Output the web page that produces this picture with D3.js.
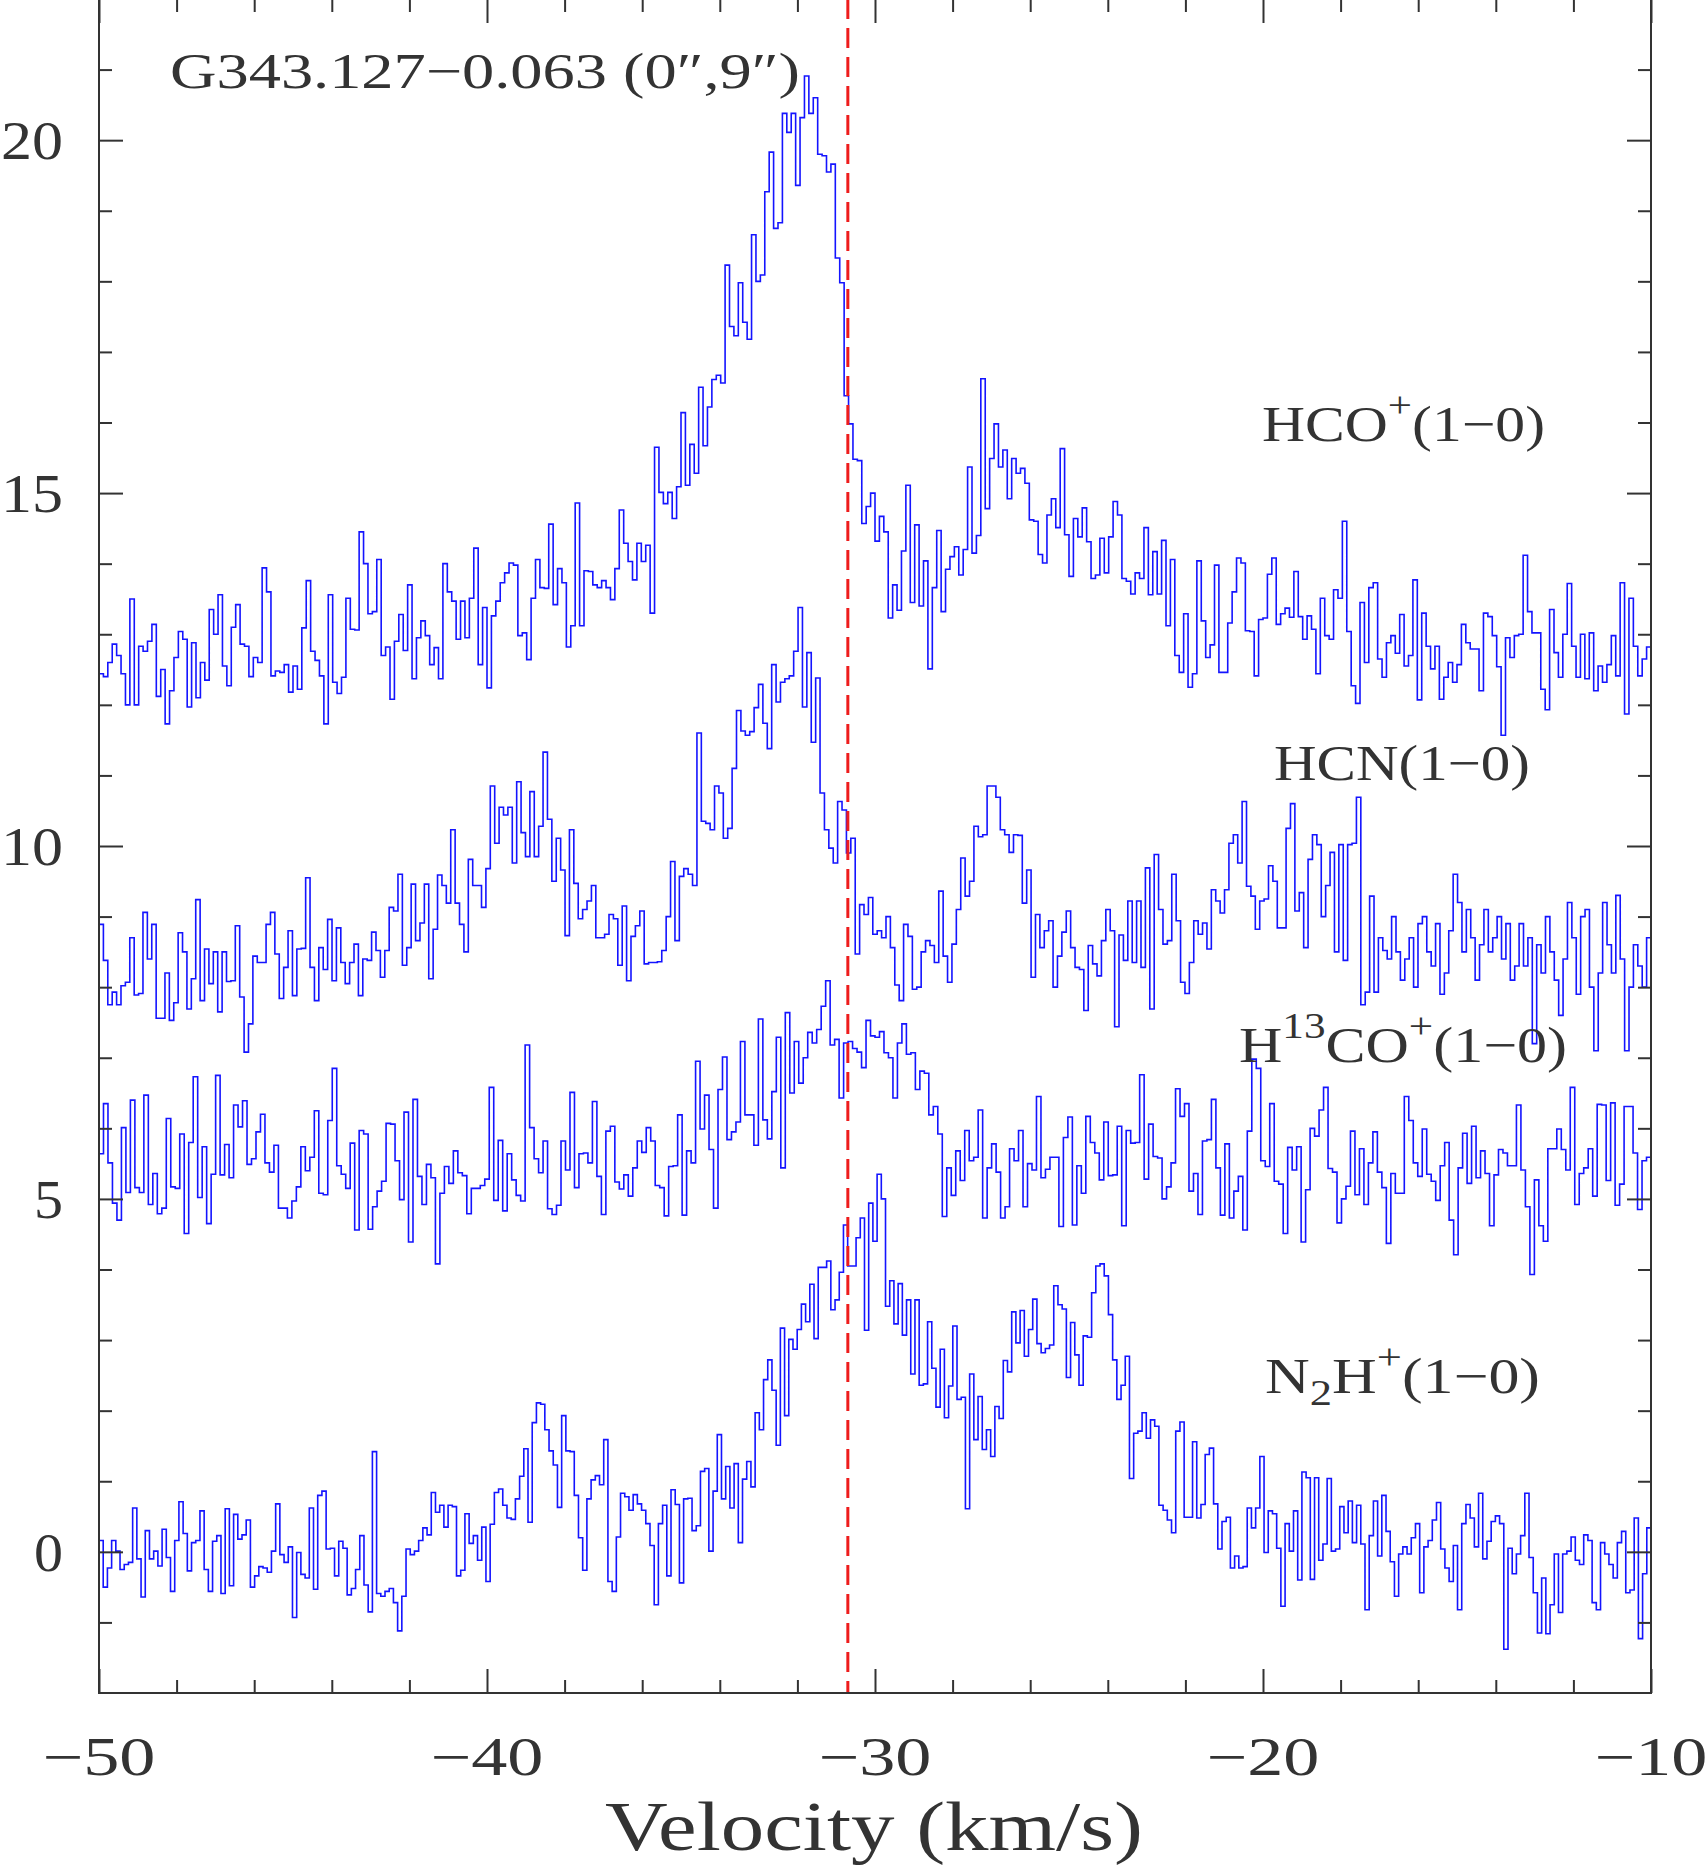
<!DOCTYPE html>
<html><head><meta charset="utf-8">
<script src="https://cdn.jsdelivr.net/npm/d3@7"></script>
<style>html,body{margin:0;padding:0;background:#fff;} svg{display:block;}</style>
</head><body>
<svg id="chart" width="1708" height="1867"></svg>
<script>
// ---------- data ----------
const velocityRange = [-50, -10];
const intensityRange = [-2, 22];
const xMajorTicks = [-50, -40, -30, -20, -10];
const xTickLabels = ["\u221250", "\u221240", "\u221230", "\u221220", "\u221210"];
const xMinorTicks = [-48, -46, -44, -42, -38, -36, -34, -32, -28, -26, -24, -22, -18, -16, -14, -12];
const yMajorTicks = [0, 5, 10, 15, 20];
const yTickLabels = ["0", "5", "10", "15", "20"];
const yMinorTicks = [-1, 1, 2, 3, 4, 6, 7, 8, 9, 11, 12, 13, 14, 16, 17, 18, 19, 21];
const systemicVelocity = -30.7;
const sourceTitle = "G343.127\u22120.063 (0\u2033,9\u2033)";

const hcoValues = [
12.44,12.4,12.6,12.86,12.7,12.44,12.0,13.5,12.0,12.83,12.76,12.9,13.14,12.12,12.5,11.73,12.2,12.67,13.04,12.93,11.97,12.88,12.1,12.6,12.35,13.35,13.0,13.56,12.55,12.27,13.1,13.42,12.86,12.83,12.4,12.67,12.6,13.94,13.6,12.41,12.48,12.46,12.57,12.18,12.55,12.22,13.09,13.76,12.76,12.63,12.41,11.73,13.56,12.32,12.16,12.39,13.51,13.07,13.06,14.45,
14.0,13.29,13.32,14.06,12.7,12.82,12.08,12.9,13.28,12.77,13.7,12.37,12.95,13.19,12.98,12.57,12.81,12.37,14.0,13.6,13.47,12.93,13.47,12.95,13.51,14.22,12.57,13.38,12.24,13.26,13.47,13.73,13.87,14.01,13.98,12.98,13.02,12.64,13.51,14.06,13.66,13.65,14.56,13.42,13.93,13.73,12.82,13.12,14.86,13.12,13.9,13.89,13.7,13.66,13.76,13.66,13.49,13.93,
14.76,14.29,14.03,13.77,14.29,14.03,14.26,13.3,15.65,15.01,14.85,15.01,14.64,15.09,16.14,15.11,15.69,15.28,16.5,15.67,16.22,16.61,16.67,16.56,18.23,17.36,17.23,17.98,17.42,17.18,18.66,18.0,18.09,19.27,19.83,18.75,18.83,20.38,20.11,20.38,19.36,20.32,20.91,20.38,20.6,19.8,19.78,19.55,19.66,18.33,17.98,16.38,15.98,15.48,15.46,14.57,14.81,15.0,14.32,
14.67,14.45,13.23,13.7,13.34,14.18,15.11,13.45,14.55,13.4,14.04,12.51,13.66,14.47,13.32,13.92,14.1,14.24,13.84,14.2,15.37,14.15,14.4,16.62,14.78,15.49,15.98,15.37,15.61,14.92,15.49,15.28,15.35,15.14,14.62,14.6,14.13,14.01,14.69,14.92,14.51,15.63,14.41,13.82,14.64,14.38,14.79,14.31,13.79,13.84,14.36,13.87,14.38,14.88,14.69,13.79,13.75,13.57,13.87,
13.79,14.51,13.56,14.17,13.57,14.33,13.12,14.06,12.7,12.46,13.29,12.25,12.44,14.04,13.19,12.67,12.85,13.98,12.46,12.46,13.16,13.6,14.08,14.01,13.05,13.04,12.41,13.21,13.23,13.85,14.08,13.14,13.29,13.37,13.24,13.89,13.25,12.93,13.26,13.07,12.44,13.51,12.98,12.93,13.63,13.51,14.6,13.04,12.27,12.02,13.45,12.6,13.66,13.73,12.65,12.39,12.88,12.98,
12.73,13.28,12.55,12.7,13.77,12.07,13.3,12.83,12.51,12.83,12.08,12.39,12.6,12.32,12.57,13.14,12.88,12.79,12.79,12.2,13.3,13.25,12.98,12.54,11.57,12.95,12.67,12.98,13.0,14.12,13.32,13.02,13.02,12.22,11.93,13.35,12.74,12.39,13.0,13.72,12.83,12.39,13.0,12.37,13.02,12.2,12.55,12.32,12.57,12.98,12.41,13.73,11.87,13.51,12.83,12.41,12.65,12.82
];

const hcnValues = [
8.89,8.38,7.75,7.93,7.75,8.02,8.07,8.70,7.89,7.91,9.06,8.4,8.89,7.56,7.56,8.2,7.53,7.78,8.77,8.5,7.69,8.12,9.24,7.81,8.54,8.05,8.5,7.65,8.5,8.08,8.09,8.87,7.86,7.08,7.48,8.44,8.35,8.35,8.89,9.06,8.47,7.84,8.28,8.8,7.88,8.54,8.55,9.55,8.28,7.81,8.56,8.25,8.96,8.09,8.84,8.35,8.05,8.35,
8.61,7.88,8.4,8.38,8.78,8.52,8.14,8.52,9.13,9.08,9.6,8.31,8.56,9.46,8.66,8.91,9.46,8.12,8.82,9.59,9.44,9.19,10.23,9.19,8.89,8.5,9.81,9.44,9.44,9.13,9.68,10.85,10.04,10.55,10.44,10.55,9.76,10.91,10.19,9.85,10.77,9.85,10.28,11.33,10.38,9.5,10.11,9.66,8.73,10.23,9.47,8.97,9.1,9.22,9.44,8.7,8.7,8.75,9.03,
8.97,8.31,9.15,8.09,8.72,8.87,9.08,8.33,8.35,8.35,8.36,8.52,9.0,9.78,8.66,9.57,9.68,9.6,9.44,11.6,10.35,10.32,10.23,10.85,10.75,10.11,10.25,11.1,11.92,11.63,11.57,11.62,11.96,12.29,11.74,11.38,12.57,12.04,12.32,12.37,12.41,12.76,13.38,11.97,12.74,11.47,12.38,10.75,10.23,9.97,9.76,10.63,10.51,9.9,10.11,8.47,9.17,9.03,
9.27,8.75,8.8,8.7,9.0,8.56,8.03,7.81,8.89,8.72,7.97,8.0,8.5,8.66,8.59,8.35,9.36,8.44,8.07,8.61,9.1,9.83,9.29,9.5,10.28,10.13,10.16,10.85,10.85,10.69,10.23,10.16,9.91,10.16,10.15,9.19,9.66,8.14,9.03,8.56,8.8,8.94,8.0,8.44,8.78,9.08,8.56,8.28,8.25,7.67,8.59,8.33,8.16,8.66,9.1,8.8,7.44,8.74,8.38,
9.22,8.35,9.22,8.28,9.69,7.69,9.88,9.1,8.61,8.66,9.6,8.94,8.07,7.91,8.35,8.94,8.75,8.91,8.54,9.38,9.22,9.05,9.38,10.04,10.16,9.76,10.63,9.43,9.29,8.82,9.22,9.25,9.72,9.5,8.84,8.84,10.25,10.6,9.08,9.34,8.56,9.81,10.16,10.02,9.0,9.44,9.91,8.5,10.02,8.38,10.02,10.04,10.69,7.75,7.93,9.29,7.93,8.7,8.52,
8.4,9.0,8.5,8.1,8.4,8.7,8.0,8.9,9.0,8.5,8.3,8.9,7.9,8.2,8.8,9.6,9.2,8.5,9.1,8.7,8.1,8.6,9.1,8.5,8.7,9.0,8.4,8.9,8.1,8.3,8.9,8.3,8.7,7.2,8.6,8.2,9.0,8.5,8.1,7.6,8.4,9.2,8.7,7.9,9.0,9.1,8.0,7.1,8.2,9.2,8.6,8.2,9.3,8.4,7.1,8.0,8.6,8.3,8.0,8.7
];

const h13coValues = [
5.64,6.35,5.51,4.94,4.70,6.01,5.09,6.40,5.16,5.09,6.47,4.92,5.36,4.79,4.87,6.14,5.17,5.15,5.92,4.51,5.80,6.73,5.02,5.74,4.65,5.35,6.75,5.34,5.77,5.30,6.33,6.02,6.39,5.49,5.57,5.95,6.20,5.51,5.38,5.76,4.87,4.87,4.73,4.97,5.17,5.74,5.40,5.59,6.25,5.08,5.06,6.11,6.85,5.47,5.35,5.15,5.79,4.56,5.97,
5.92,4.57,4.89,5.11,5.25,6.07,6.06,5.54,4.99,6.23,4.39,6.41,5.32,4.92,5.49,5.30,4.08,5.08,5.46,5.22,5.68,5.37,5.33,4.79,5.15,5.15,5.19,5.28,6.58,4.98,5.83,4.83,5.64,5.27,5.05,4.97,7.18,6.01,5.57,5.37,5.82,4.86,4.78,4.91,5.82,5.41,6.51,5.16,5.64,5.65,5.51,6.38,5.32,4.78,5.96,6.03,
5.24,5.14,5.34,5.04,5.44,5.82,5.66,6.01,5.82,5.19,5.16,4.76,5.46,5.47,6.19,4.77,5.68,5.51,6.95,5.99,6.47,5.70,4.87,6.55,7.01,5.84,5.95,6.09,7.23,6.19,6.19,5.76,7.55,6.12,5.85,6.52,7.29,5.44,7.64,6.50,7.23,6.64,7.00,7.36,7.21,7.40,7.73,8.09,7.18,7.26,6.43,7.21,7.23,7.13,7.08,6.86,7.53,7.31,
7.29,7.37,7.07,7.00,6.43,7.21,7.48,7.05,7.07,6.55,6.81,6.78,6.19,6.31,5.92,4.75,5.44,5.05,5.68,5.26,5.97,5.54,5.59,6.26,4.73,5.44,5.78,5.38,4.73,4.89,5.71,5.54,5.97,4.89,5.50,5.41,6.45,5.30,5.42,5.59,5.59,4.61,5.87,6.16,4.63,5.47,5.08,6.17,5.80,5.65,5.27,6.09,5.33,5.34,6.03,4.62,5.97,5.79,
5.80,6.76,5.28,6.06,5.60,5.58,5.00,5.17,5.51,6.56,6.17,6.35,5.11,5.36,4.78,5.82,5.84,6.41,5.44,4.77,5.78,4.73,5.11,5.32,4.56,5.96,6.98,6.85,5.54,5.46,6.35,5.25,5.21,4.51,5.73,5.41,5.74,4.39,5.13,6.00,5.89,6.26,6.58,5.43,5.38,4.66,5.00,5.18,5.96,5.06,5.71,4.92,5.51,5.95,5.38,5.16,4.37,
5.36,5.08,5.08,6.45,6.11,5.51,5.32,5.99,5.35,5.25,4.98,5.47,5.80,4.70,4.21,5.44,5.93,5.22,6.03,5.30,5.68,5.36,4.62,5.34,5.70,5.65,5.47,5.47,6.33,5.41,4.89,3.93,5.27,4.62,4.40,5.71,5.71,5.99,5.70,5.41,6.58,4.92,5.36,5.44,5.71,5.04,6.34,6.33,5.26,6.36,4.91,5.21,6.31,6.31,5.65,4.85,5.54,5.59
];

const n2hValues = [
0.16,-0.50,-0.23,0.16,0.01,-0.25,-0.18,-0.15,0.62,-0.10,-0.64,0.30,-0.10,0.01,-0.20,0.32,-0.08,-0.56,0.16,0.71,0.26,-0.27,0.13,0.16,0.58,-0.25,-0.56,0.15,0.23,-0.59,0.61,-0.48,0.53,0.18,0.24,0.45,-0.50,-0.34,-0.21,-0.23,-0.29,0.01,0.68,-0.04,-0.15,0.07,-0.93,-0.01,-0.32,-0.37,0.62,-0.53,0.80,0.86,0.04,0.05,-0.34,0.15,0.05,-0.61,-0.52,-0.25,
0.23,-0.47,-0.85,1.42,-0.59,-0.63,-0.56,-0.52,-0.72,-1.12,-0.63,0.04,-0.04,0.01,0.16,0.34,0.24,0.84,0.56,0.66,0.35,0.66,0.64,-0.34,-0.26,0.54,0.12,0.23,-0.12,0.35,-0.42,0.39,0.84,0.89,0.66,0.48,0.46,0.75,1.07,1.46,0.42,1.83,2.11,2.09,1.73,1.43,1.23,0.63,1.93,1.43,1.42,0.80,0.20,-0.26,0.75,1.02,1.08,0.95,1.59,-0.42,-0.56,
0.21,0.83,0.78,0.59,0.81,0.68,0.59,0.40,0.09,-0.75,0.40,0.66,-0.34,0.88,0.67,-0.44,0.75,0.76,0.30,0.37,1.14,1.18,0.01,0.86,1.66,0.75,1.21,0.62,1.25,0.13,1.03,1.28,0.92,1.97,1.73,2.44,2.72,2.29,1.51,3.17,1.93,3.01,2.87,3.15,3.51,3.26,3.79,3.02,4.03,4.03,4.12,3.43,3.57,3.96,4.63,4.05,4.05,4.45,4.73,3.14,4.94,4.40,
5.35,5.00,3.48,3.84,3.23,3.80,3.07,3.57,2.52,3.57,2.36,2.38,3.26,2.60,2.05,2.87,1.90,2.35,3.20,2.16,2.19,0.61,2.52,1.59,2.20,1.45,1.73,1.35,2.06,1.89,2.71,2.55,3.40,2.96,3.42,2.77,3.15,3.58,2.95,2.82,2.88,2.93,3.77,3.50,3.44,2.47,3.25,2.79,2.36,3.06,3.04,3.67,4.05,4.08,3.91,3.36,2.72,2.16,2.36,2.77,1.04,
1.68,1.71,1.97,1.61,1.87,1.78,0.66,0.59,0.45,0.27,1.71,1.84,0.49,0.49,1.56,0.48,0.67,1.38,1.47,0.68,0.04,0.43,0.49,-0.23,-0.06,-0.23,-0.21,0.62,0.34,0.62,1.35,-0.01,0.58,0.54,0.05,-0.77,0.40,0.01,0.58,-0.40,1.13,1.05,-0.39,1.05,-0.12,0.11,1.04,0.01,0.04,0.64,0.27,0.72,0.13,0.66,0.11,-0.82,0.23,0.72,-0.06,0.80,0.29,-0.14,
-0.63,-0.03,0.07,-0.03,0.20,0.40,-0.58,0.07,0.16,0.45,0.70,0.04,-0.23,-0.42,0.09,-0.82,0.40,0.67,0.48,0.07,0.83,-0.10,0.15,0.43,0.51,0.40,-1.38,0.05,-0.31,-0.03,0.23,0.83,-0.08,-0.58,-1.15,-0.37,-1.16,-0.75,-0.03,-0.86,-0.03,0.01,0.21,-0.12,-0.18,0.24,0.16,-0.72,-0.82,0.13,-0.03,-0.18,-0.37,0.13,0.29,-0.58,-0.54,0.48,-1.23,-0.31,0.34
];

const seriesNames = ["HCO+(1-0)", "HCN(1-0)", "H13CO+(1-0)", "N2H+(1-0)"];
const seriesValues = [hcoValues, hcnValues, h13coValues, n2hValues];

// ---------- layout ----------
const plot = {left: 99, right: 1651, top: -1, bottom: 1693};
const svg = d3.select("#chart");
const x = d3.scaleLinear().domain(velocityRange).range([plot.left, plot.right]);
const y = d3.scaleLinear().domain(intensityRange).range([plot.bottom, plot.top]);
const FONT = "'Liberation Serif', 'DejaVu Serif', serif";
const TEXT_COLOR = "#333";
const AXIS_COLOR = "#333";

svg.append("defs").append("clipPath").attr("id", "plotclip")
  .append("rect").attr("x", plot.left).attr("y", plot.top)
  .attr("width", plot.right - plot.left).attr("height", plot.bottom - plot.top);

// spectra
const line = d3.line().x(d => x(d[0])).y(d => y(d[1])).curve(d3.curveStepAfter);
const specG = svg.append("g").attr("clip-path", "url(#plotclip)");
seriesValues.forEach(vals => {
  const dv = (velocityRange[1] - velocityRange[0]) / vals.length;
  const pts = vals.map((v, i) => [velocityRange[0] + i * dv, v]);
  pts.push([velocityRange[1], vals[vals.length - 1]]);
  specG.append("path").datum(pts).attr("d", line)
    .attr("fill", "none").attr("stroke", "#1414ff").attr("stroke-width", 1.6);
});

// systemic velocity line
specG.append("line")
  .attr("x1", x(systemicVelocity)).attr("x2", x(systemicVelocity))
  .attr("y1", y(intensityRange[1])).attr("y2", y(intensityRange[0]))
  .attr("stroke", "#ee1c1c").attr("stroke-width", 3).attr("stroke-dasharray", "20,9");

// frame
svg.append("rect").attr("x", plot.left).attr("y", plot.top)
  .attr("width", plot.right - plot.left).attr("height", plot.bottom - plot.top)
  .attr("fill", "none").attr("stroke", AXIS_COLOR).attr("stroke-width", 2);

// ticks (inward on all four sides) using d3 axes
const MAJ = 24, MIN = 13;
function addAxis(gen, tx, ty) {
  const g = svg.append("g").attr("transform", `translate(${tx},${ty})`).call(gen);
  g.select(".domain").remove();
  g.selectAll("line").attr("stroke", AXIS_COLOR).attr("stroke-width", 2);
  g.selectAll("text").remove();
  return g;
}
addAxis(d3.axisTop(x).tickValues(xMajorTicks).tickSize(MAJ), 0, plot.bottom);
addAxis(d3.axisTop(x).tickValues(xMinorTicks).tickSize(MIN), 0, plot.bottom);
addAxis(d3.axisBottom(x).tickValues(xMajorTicks).tickSize(MAJ), 0, plot.top);
addAxis(d3.axisBottom(x).tickValues(xMinorTicks).tickSize(MIN), 0, plot.top);
addAxis(d3.axisRight(y).tickValues(yMajorTicks).tickSize(MAJ), plot.left, 0);
addAxis(d3.axisRight(y).tickValues(yMinorTicks).tickSize(MIN), plot.left, 0);
addAxis(d3.axisLeft(y).tickValues(yMajorTicks).tickSize(MAJ), plot.right, 0);
addAxis(d3.axisLeft(y).tickValues(yMinorTicks).tickSize(MIN), plot.right, 0);

// tick labels
xMajorTicks.forEach((t, i) => {
  svg.append("text").attr("x", x(t)).attr("y", 1775)
    .attr("text-anchor", "middle").attr("font-family", FONT).attr("font-size", 54)
    .attr("fill", TEXT_COLOR).attr("textLength", 113).attr("lengthAdjust", "spacingAndGlyphs")
    .text(xTickLabels[i]);
});
yMajorTicks.forEach((t, i) => {
  const s = yTickLabels[i];
  svg.append("text").attr("x", 63).attr("y", y(t) + 19)
    .attr("text-anchor", "end").attr("font-family", FONT).attr("font-size", 54)
    .attr("fill", TEXT_COLOR).attr("textLength", s.length === 1 ? 29 : 62).attr("lengthAdjust", "spacingAndGlyphs")
    .text(s);
});

// axis title
svg.append("text").attr("x", 605).attr("y", 1850)
  .attr("font-family", FONT).attr("font-size", 70).attr("fill", TEXT_COLOR)
  .attr("textLength", 538).attr("lengthAdjust", "spacingAndGlyphs")
  .text("Velocity (km/s)");

// source title
svg.append("text").attr("x", 170).attr("y", 88)
  .attr("font-family", FONT).attr("font-size", 50).attr("fill", TEXT_COLOR)
  .attr("textLength", 630).attr("lengthAdjust", "spacingAndGlyphs")
  .text(sourceTitle);

// line labels built from parts: [text, shift, size]
function label(x0, base, parts, width) {
  const t = svg.append("text").attr("x", x0).attr("y", base)
    .attr("font-family", FONT).attr("fill", TEXT_COLOR).attr("font-size", 50);
  let cur = 0;
  parts.forEach(p => {
    const shift = p[1] || 0;
    t.append("tspan").attr("dy", shift - cur).attr("font-size", p[2] || 50).text(p[0]);
    cur = shift;
  });
  t.attr("textLength", width).attr("lengthAdjust", "spacingAndGlyphs");
}
label(1262, 441, [["HCO"], ["+", -24, 36], ["(1\u22120)", 0]], 283);
label(1274, 780, [["HCN(1\u22120)"]], 256);
label(1239, 1062, [["H"], ["13", -24, 36], ["CO", 0], ["+", -24, 36], ["(1\u22120)", 0]], 328);
label(1265, 1393, [["N"], ["2", 12, 36], ["H", 0], ["+", -24, 36], ["(1\u22120)", 0]], 275);
</script>
</body></html>
